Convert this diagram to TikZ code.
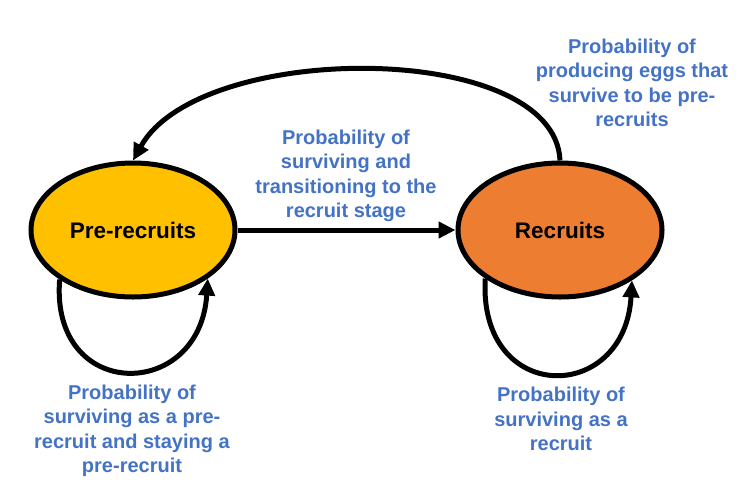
\documentclass[tikz,border=0pt]{standalone}
\usepackage{fontspec}
\setmainfont{Liberation Sans}
\usetikzlibrary{arrows.meta,shapes.geometric}
\definecolor{lblue}{HTML}{4472C4}
\definecolor{preyellow}{HTML}{FFC000}
\definecolor{recorange}{HTML}{ED7D31}
\tikzset{
  state/.style={ellipse, draw=black, line width=5pt, minimum width=204pt, minimum height=134pt, inner sep=0pt, font=\fontsize{22.5}{26}\selectfont\bfseries},
  lbl/.style={text=lblue, align=center, font=\fontsize{20}{24.5}\selectfont\bfseries, inner sep=0pt},
  conn/.style={line width=5pt, -{Triangle[length=17pt,width=16pt]}}
}
\begin{document}
\begin{tikzpicture}[x=1pt,y=-1pt]
\useasboundingbox (0,0) rectangle (749,491);
\node[state, fill=preyellow] (pre) at (133,230) {Pre-recruits};
\node[state, fill=recorange] (rec) at (560,230) {Recruits};
\draw[conn] (pre.east) -- (rec.west);
\draw[conn] (rec.north) .. controls (555,40) and (200,40) .. (pre.north);
\draw[conn] (pre.-146) .. controls (50,402) and (200,402) .. (pre.-33);
\draw[conn] (rec.-147) .. controls (478,405) and (625,405) .. (rec.-35);
\node[lbl] (l1) at (346,176) {Probability of\\surviving and\\transitioning to the\\recruit stage};
\node[lbl] (l2) at (632,83) {Probability of\\producing eggs that\\survive to be pre-\\recruits};
\node[lbl] (l3) at (132,431) {Probability of\\surviving as a pre-\\recruit and staying a\\pre-recruit};
\node[lbl] (l4) at (561,419) {Probability of\\surviving as a\\recruit};
\end{tikzpicture}
\end{document}
